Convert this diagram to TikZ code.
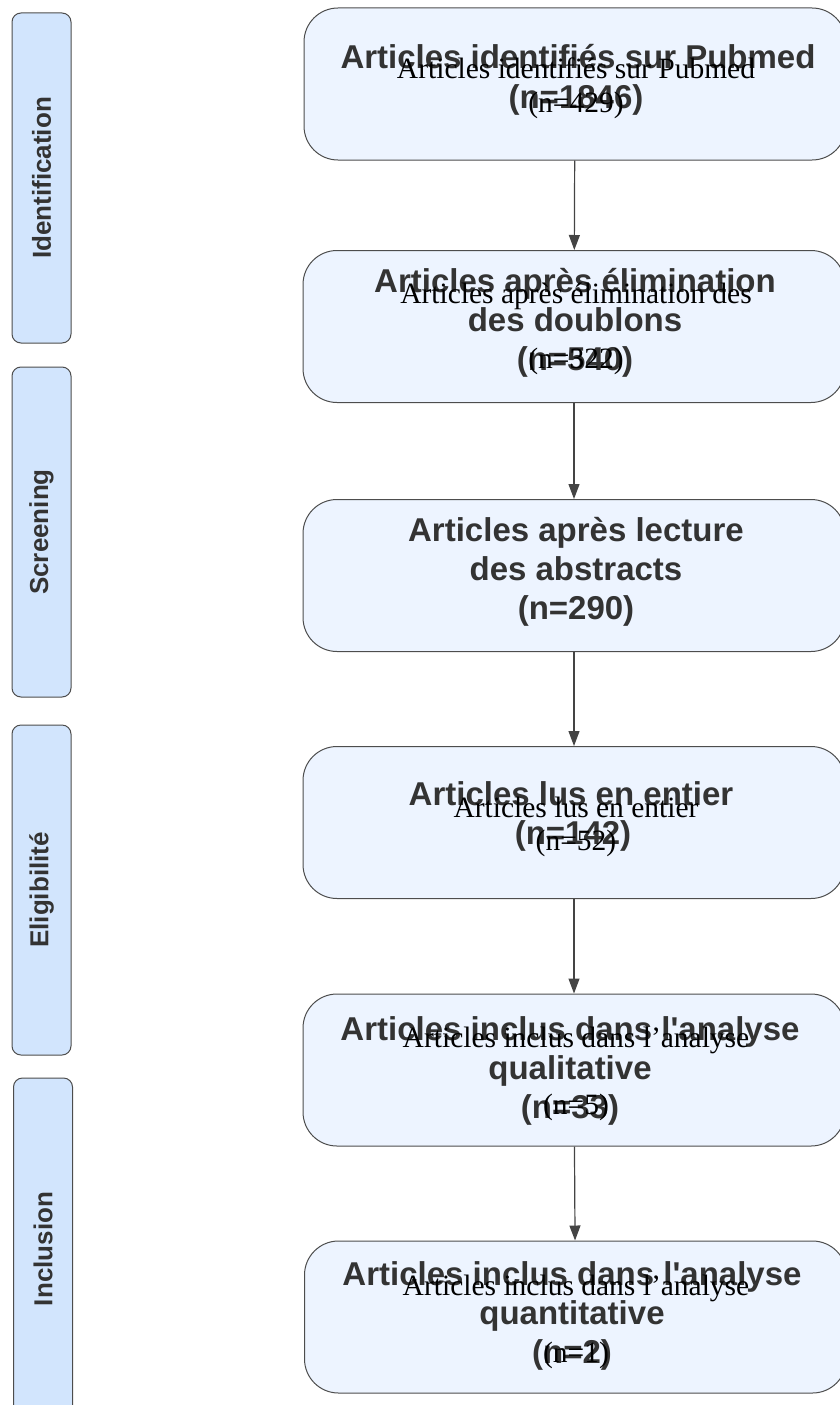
\documentclass[tikz,border=0pt]{standalone}
\usepackage{fontspec}
\setmainfont{Liberation Serif}
\newfontfamily\labelfont{Liberation Sans}
\usetikzlibrary{arrows.meta}
\definecolor{boxfill}{HTML}{EDF4FF}
\definecolor{sidefill}{HTML}{D2E5FD}
\definecolor{boxline}{HTML}{4D4D4D}
\definecolor{txt}{HTML}{333333}
\definecolor{arrowcol}{HTML}{444444}
\tikzset{
	stage/.style={draw=boxline, fill=boxfill, line width=1pt, rounded corners=34pt,
		minimum width=542pt, minimum height=152pt, inner sep=0pt},
	phase/.style={draw=boxline, fill=sidefill, line width=1pt, rounded corners=9pt,
		minimum width=330pt, minimum height=59pt, inner sep=0pt, rotate=90,
		text=txt, font=\fontsize{26}{30}\selectfont\labelfont\bfseries},
	boldline/.style={anchor=base, text=txt, inner sep=0pt,
		font=\fontsize{33}{39}\selectfont\labelfont\bfseries},
	plainline/.style={anchor=base, inner sep=0pt, font=\fontsize{29.5}{33}\selectfont\rmfamily},
	flow/.style={-{Triangle[length=15pt,width=11pt]}, draw=arrowcol, line width=1.2pt},
}
\begin{document}
\begin{tikzpicture}[x=1pt,y=-1pt]
\useasboundingbox (0,0) rectangle (840,1405);
% phases
\node[phase] (ph1) at (41.5,178) {Identification};
\node[phase] (ph2) at (41.5,532) {Screening};
\node[phase] (ph3) at (41.5,890) {Eligibilité};
\node[phase, minimum width=342pt] (ph4) at (43,1249) {Inclusion};
% boxes
\node[stage] (b1) at (575,84) {};
\node[stage] (b2) at (574,326.5) {};
\node[stage] (b3) at (574,575.5) {};
\node[stage] (b4) at (574,822.5) {};
\node[stage] (b5) at (574,1070) {};
\node[stage] (b6) at (575.5,1317) {};
% arrows
\draw[flow] (b1) -- (b2);
\draw[flow] (b2) -- (b3);
\draw[flow] (b3) -- (b4);
\draw[flow] (b4) -- (b5);
\draw[flow] (b5) -- (b6);
% box 1
\node[boldline] (t1a) at (578,69) {Articles identifiés sur Pubmed};
\node[boldline] (t1b) at (576,108) {(n=1846)};
\node[plainline] (s1a) at (576,78) {Articles identifiés sur Pubmed};
\node[plainline] (s1b) at (576,112) {(n=429)};
% box 2
\node[boldline] (t2a) at (575,292) {Articles après élimination};
\node[boldline] (t2b) at (575,331) {des doublons};
\node[boldline] (t2c) at (575,370) {(n=540)};
\node[plainline] (s2a) at (576,303) {Articles après élimination des};
\node[plainline] (s2b) at (576,368) {(n=322)};
% box 3
\node[boldline] (t3a) at (576,541) {Articles après lecture};
\node[boldline] (t3b) at (576,580) {des abstracts};
\node[boldline] (t3c) at (576,619) {(n=290)};
% box 4
\node[boldline] (t4a) at (571,805) {Articles lus en entier};
\node[boldline] (t4b) at (573,844) {(n=142)};
\node[plainline] (s4a) at (576,817) {Articles lus en entier};
\node[plainline] (s4b) at (576,850) {(n=52)};
% box 5
\node[boldline] (t5a) at (570,1040) {Articles inclus dans l'analyse};
\node[boldline] (t5b) at (570,1079) {qualitative};
\node[boldline] (t5c) at (570,1118) {(n=33)};
\node[plainline] (s5a) at (576,1047) {Articles inclus dans l’analyse};
\node[plainline] (s5b) at (576,1114) {(n=5)};
% box 6
\node[boldline] (t6a) at (572,1285) {Articles inclus dans l'analyse};
\node[boldline] (t6b) at (572,1324) {quantitative};
\node[boldline] (t6c) at (572,1363) {(n=2)};
\node[plainline] (s6a) at (576,1295) {Articles inclus dans l’analyse};
\node[plainline] (s6b) at (576,1362) {(n=1)};
\end{tikzpicture}
\end{document}
